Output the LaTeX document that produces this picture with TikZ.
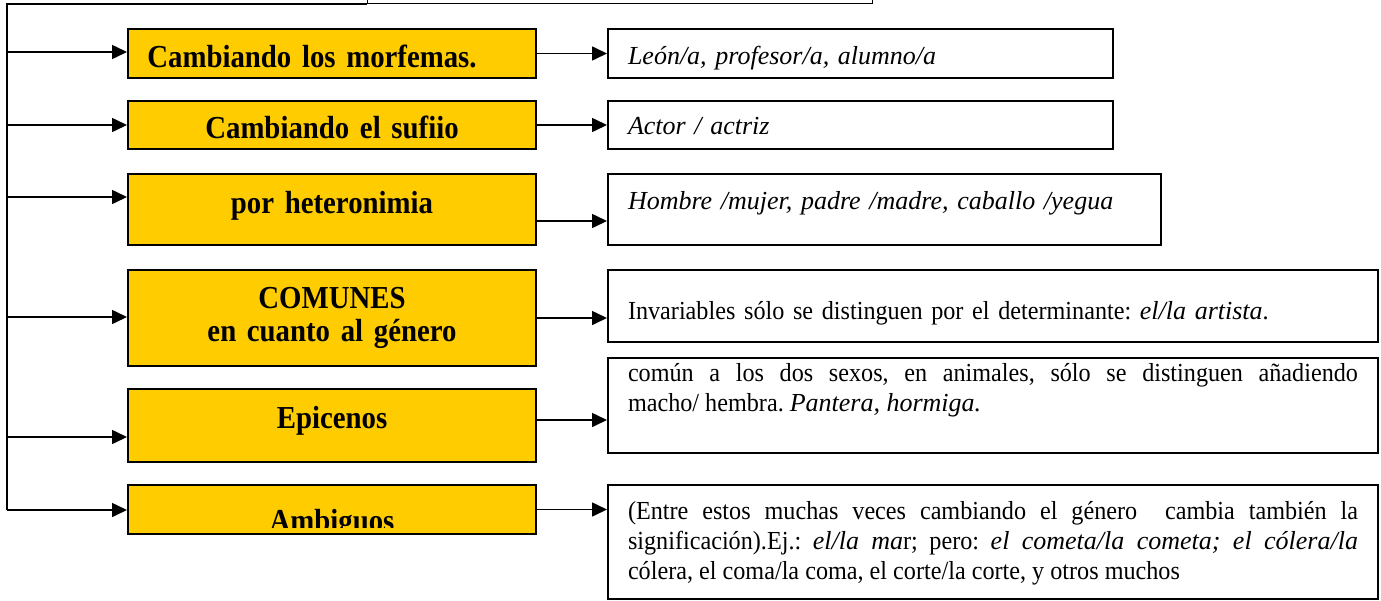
\documentclass[tikz,border=0pt]{standalone}
\usepackage{fontspec}
\setmainfont{Liberation Serif}[UprightFeatures={FakeStretch=0.93},
  BoldFeatures={FakeStretch=0.9}]
\usepackage{adjustbox}
\usetikzlibrary{arrows.meta}
\definecolor{amarillo}{HTML}{FFCC00}
\hyphenpenalty=10000
\exhyphenpenalty=10000
\frenchspacing

\begin{document}
\begin{tikzpicture}[x=1pt,y=-1pt,
    caja/.style={draw, line width=2pt, anchor=north west, inner ysep=0pt},
    tipo/.style={caja, fill=amarillo, inner xsep=0pt, text width=408pt, align=center,
      font=\fontsize{32}{33}\selectfont\bfseries},
    ejemplo/.style={caja, fill=white, inner xsep=20pt,
      font=\fontsize{26}{30}\selectfont},
    alto/.style 2 args={text height=#1pt, text depth=#2pt},
    linea/.style={line width=1.6pt},
    flecha/.style={linea, -{Triangle[length=15pt,width=14pt]}}]
  \useasboundingbox (0,0) rectangle (1381,600);
  \clip (0,0) rectangle (1381,600);

  \node[draw, line width=1.2pt, anchor=south west, minimum width=505pt,
    minimum height=60pt] (raiz) at (367,4) {};

  % clases de sustantivos
  \node[tipo, alto={38}{11}] (tipo1) at (127,28)
    {Cambiando los morfemas.\hspace*{40pt}\mbox{}};
  \node[tipo, alto={37}{11}] (tipo2) at (127,100) {Cambiando el sufiio};
  \node[tipo, alto={39}{32}] (tipo3) at (127,173) {por heteronimia};
  \node[tipo, alto={38}{58}] (tipo4) at (127,269) {COMUNES\\en cuanto al género};
  \node[tipo, alto={39}{34}] (tipo5) at (127,388) {Epicenos};
  \node[tipo, alto={42}{7}] (tipo6) at (127,484)
    {\clipbox*{0pt 4pt {\width} {\height}}{Ambiguos}};

  % ejemplos
  \node[ejemplo, text width=465pt, align=left, alto={35}{14}] (ej1) at (607,28)
    {\textit{León/a, profesor/a, alumno/a}};
  \node[ejemplo, text width=465pt, align=left, alto={33}{15}] (ej2) at (607,100)
    {\textit{Actor / actriz}};
  \node[ejemplo, text width=513pt, align=left, alto={35}{36}] (ej3) at (607,173)
    {\textit{Hombre /mujer, padre /madre, caballo /yegua}};
  \node[ejemplo, text width=730pt, align=left, alto={49}{23}] (ej4) at (607,269)
    {Invariables sólo se distinguen por el determinante: \textit{el/la artista}.};
  \node[ejemplo, text width=730pt, align=justify, alto={23}{72}] (ej5) at (607,357)
    {común a los dos sexos, en animales, sólo se distinguen añadiendo\linebreak
     macho/ hembra. \textit{Pantera, hormiga.}};
  \node[ejemplo, text width=730pt, align=justify, alto={34}{80}] (ej6) at (607,484)
    {(Entre estos muchas veces cambiando el género\ \ cambia también la\linebreak
     significación).Ej.: \textit{el/la ma}r; pero: \textit{el cometa/la cometa;
     el cólera/la}\linebreak cólera, el coma/la coma, el corte/la corte, y otros muchos};

  \coordinate (bus0) at (7,4);
  \coordinate (bus1) at (7,52);
  \coordinate (bus2) at (7,125);
  \coordinate (bus3) at (7,197);
  \coordinate (bus4) at (7,317);
  \coordinate (bus5) at (7,437);
  \coordinate (bus6) at (7,510);
  \coordinate (der3) at (535,221);
  \coordinate (der5) at (535,420);

  \draw[linea] (raiz.south west) -- (bus0) -- (bus6);
  \begin{scope}[flecha]
    \draw (bus1) -- (bus1 -| tipo1.west);
    \draw (bus2) -- (bus2 -| tipo2.west);
    \draw (bus3) -- (bus3 -| tipo3.west);
    \draw (bus4) -- (bus4 -| tipo4.west);
    \draw (bus5) -- (bus5 -| tipo5.west);
    \draw (bus6) -- (bus6 -| tipo6.west);
    \draw (tipo1.east) -- (tipo1.east -| ej1.west);
    \draw (tipo2.east) -- (tipo2.east -| ej2.west);
    \draw (der3) -- (der3 -| ej3.west);
    \draw (tipo4.east) -- (tipo4.east -| ej4.west);
    \draw (der5) -- (der5 -| ej5.west);
    \draw (tipo6.east) -- (tipo6.east -| ej6.west);
  \end{scope}
\end{tikzpicture}
\end{document}
